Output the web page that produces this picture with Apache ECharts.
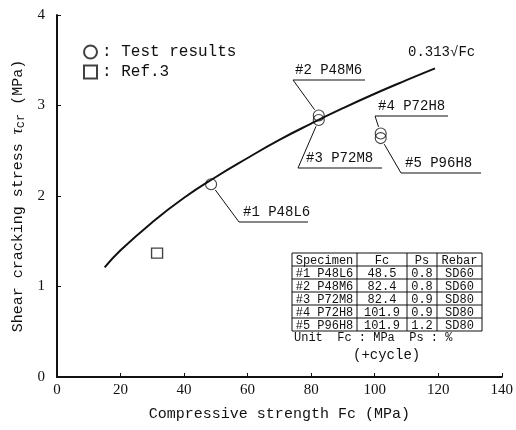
<!DOCTYPE html>
<html>
<head>
<meta charset="utf-8">
<script src="https://cdn.jsdelivr.net/npm/echarts@6/dist/echarts.min.js"></script>
<style>
  html, body { margin: 0; padding: 0; background: #fff; }
  #chart { width: 516px; height: 430px; }
</style>
</head>
<body>
<div id="chart"></div>
<script>
// curve 0.313*sqrt(Fc), points
var curveFc = [15, 20, 30, 40, 50, 60, 70, 80, 90, 100, 110, 119];
var curveTau = [1.21, 1.40, 1.71, 1.98, 2.21, 2.42, 2.62, 2.80, 2.97, 3.13, 3.28, 3.41];

// test results
var testNames = ['#1 P48L6', '#2 P48M6', '#3 P72M8', '#4 P72H8', '#5 P96H8'];
var testFc = [48.5, 82.4, 82.4, 101.9, 101.9];
var testTau = [2.13, 2.89, 2.84, 2.69, 2.64];

// Ref.3
var refFc = [31.5];
var refTau = [1.37];

// table
var tableHead = ['Specimen', 'Fc', 'Ps', 'Rebar'];
var tableFc = ['48.5', '82.4', '82.4', '101.9', '101.9'];
var tablePs = ['0.8', '0.8', '0.9', '0.9', '1.2'];
var tableRebar = ['SD60', 'SD60', 'SD80', 'SD80', 'SD80'];

var mono = 'Liberation Mono';
var ink = '#111';

var chart = echarts.init(document.getElementById('chart'));

function pairs(xs, ys) {
    return xs.map(function (x, i) { return [x, ys[i]]; });
}

var option = {
    animation: false,
    backgroundColor: '#fff',
    grid: { left: 57, right: 13, top: 15, bottom: 53 },
    legend: {
        orient: 'vertical',
        left: 78,
        top: 39,
        itemGap: 4,
        itemWidth: 13,
        itemHeight: 13,
        data: ['Test results', 'Ref.3'],
        formatter: function (n) { return ': ' + n; },
        textStyle: { fontFamily: mono, fontSize: 16, color: ink }
    },
    xAxis: {
        type: 'value',
        min: 0, max: 140, interval: 20,
        name: 'Compressive strength Fc (MPa)',
        nameLocation: 'middle',
        nameGap: 30,
        nameTextStyle: { fontFamily: mono, fontSize: 15, color: ink },
        axisLine: { lineStyle: { color: ink, width: 2 } },
        axisTick: { inside: true, length: 4, lineStyle: { color: ink } },
        axisLabel: { fontFamily: 'Liberation Serif', fontSize: 15, color: ink, margin: 6 },
        splitLine: { show: false }
    },
    yAxis: {
        type: 'value',
        min: 0, max: 4, interval: 1,
        name: '{a|Shear cracking stress }{t|τ}{s|cr}{a| (MPa)}',
        nameLocation: 'middle',
        nameRotate: 90,
        nameGap: 30,
        nameTextStyle: {
            rich: {
                a: { fontFamily: mono, fontSize: 15, color: ink },
                t: { fontFamily: 'Liberation Serif', fontStyle: 'italic', fontSize: 17, color: ink },
                s: { fontFamily: mono, fontSize: 12, color: ink, padding: [6, 0, 0, 0] }
            }
        },
        axisLine: { lineStyle: { color: ink, width: 2 } },
        axisTick: { inside: true, length: 4, lineStyle: { color: ink } },
        axisLabel: { fontFamily: 'Liberation Serif', fontSize: 15, color: ink, margin: 12 },
        splitLine: { show: false }
    },
    series: [
        {
            name: 'curve',
            type: 'line',
            smooth: true,
            symbol: 'none',
            data: pairs(curveFc, curveTau),
            lineStyle: { color: ink, width: 2 },
            z: 2
        },
        {
            name: 'Test results',
            type: 'scatter',
            symbol: 'circle',
            symbolSize: 11,
            data: pairs(testFc, testTau),
            itemStyle: { color: 'rgba(255,255,255,0)', borderColor: ink, borderWidth: 1.1 },
            z: 3
        },
        {
            name: 'Ref.3',
            type: 'scatter',
            symbol: 'rect',
            symbolSize: [11, 10],
            data: pairs(refFc, refTau),
            itemStyle: { color: '#fff', borderColor: ink, borderWidth: 1.3 },
            z: 3
        }
    ]
};
chart.setOption(option);

// annotations: text with underline and leader to each test point
var notes = [
    { tx: 243, uy: 222, ux0: 239, ux1: 308 },
    { tx: 295, uy: 80, ux0: 293, ux1: 365 },
    { tx: 306, uy: 168, ux0: 298, ux1: 382 },
    { tx: 378, uy: 116, ux0: 375, ux1: 448 },
    { tx: 405, uy: 173, ux0: 401, ux1: 481 }
];

var g = [];
notes.forEach(function (n, i) {
    var p = chart.convertToPixel({ gridIndex: 0 }, [testFc[i], testTau[i]]);
    var dx = n.ux0 - p[0], dy = n.uy - p[1];
    var d = Math.sqrt(dx * dx + dy * dy);
    var ex = p[0] + dx / d * 7, ey = p[1] + dy / d * 7;
    g.push({ type: 'line', shape: { x1: n.ux0, y1: n.uy, x2: ex, y2: ey }, style: { stroke: ink, lineWidth: 1 } });
    g.push({ type: 'line', shape: { x1: n.ux0, y1: n.uy, x2: n.ux1, y2: n.uy }, style: { stroke: ink, lineWidth: 1.2 } });
    g.push({ type: 'text', left: n.tx, top: n.uy - 17, style: { text: testNames[i], font: '14px "' + mono + '"', fill: ink } });
});

// formula label
g.push({ type: 'text', left: 408, top: 45, style: { text: '0.313√Fc', font: '14px "' + mono + '"', fill: ink } });

// table
var tx0 = 292, ty0 = 253, rowH = 13;
var cols = [292, 357, 407, 437, 482];
var nRows = 6;
g.push({ type: 'rect', shape: { x: tx0, y: ty0, width: cols[4] - tx0, height: rowH * nRows }, style: { fill: '#fff', stroke: ink, lineWidth: 1 }, z: 10 });
for (var r = 1; r < nRows; r++) {
    g.push({ type: 'line', shape: { x1: tx0, y1: ty0 + r * rowH, x2: cols[4], y2: ty0 + r * rowH }, style: { stroke: ink, lineWidth: 1 }, z: 11 });
}
for (var c = 1; c < 4; c++) {
    g.push({ type: 'line', shape: { x1: cols[c], y1: ty0, x2: cols[c], y2: ty0 + rowH * nRows }, style: { stroke: ink, lineWidth: 1 }, z: 11 });
}
function cell(text, c, r) {
    g.push({
        type: 'text', z: 12,
        x: (cols[c] + cols[c + 1]) / 2, y: ty0 + r * rowH + rowH / 2 + 1,
        style: { text: text, font: '12px "' + mono + '"', fill: ink, textAlign: 'center', textVerticalAlign: 'middle' }
    });
}
tableHead.forEach(function (t, c) { cell(t, c, 0); });
for (var k = 0; k < 5; k++) {
    cell(testNames[k], 0, k + 1);
    cell(tableFc[k], 1, k + 1);
    cell(tablePs[k], 2, k + 1);
    cell(tableRebar[k], 3, k + 1);
}
g.push({ type: 'text', left: 294, top: 332, style: { text: 'Unit  Fc : MPa  Ps : %', font: '12px "' + mono + '"', fill: ink } });
g.push({ type: 'text', left: 353, top: 348, style: { text: '(+cycle)', font: '14px "' + mono + '"', fill: ink } });

chart.setOption({ graphic: g });
</script>
</body>
</html>
